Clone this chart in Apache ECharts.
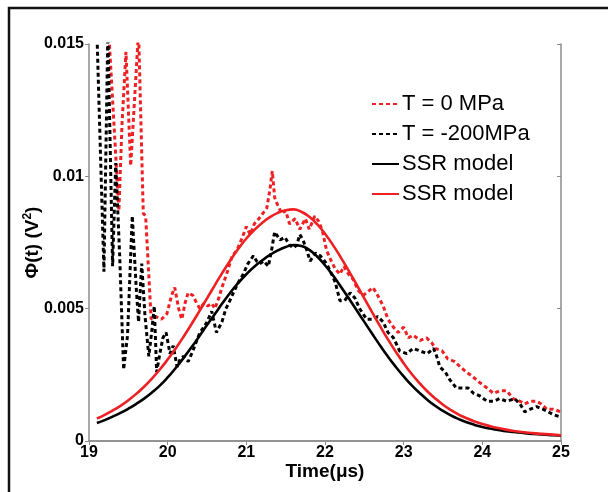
<!DOCTYPE html>
<html>
<head>
<meta charset="utf-8">
<script src="https://cdn.jsdelivr.net/npm/echarts@6/dist/echarts.min.js"></script>
<style>
html,body{margin:0;padding:0;background:#fff;}
#chart{width:608px;height:492px;}
</style>
</head>
<body>
<div id="chart"></div>
<script>
// measured, T = 0 MPa (red dotted)
var redTime = [19.25,19.38,19.42,19.47,19.53,19.63,19.69,19.72,19.79,19.85,19.92,19.99,20.05,20.09,20.14,20.18,20.22,20.26,20.32,20.37,
	20.41,20.46,20.51,20.56,20.60,20.65,20.69,20.76,20.82,20.88,20.95,21.00,21.05,21.10,21.16,21.21,21.26,21.30,21.33,21.36,
	21.40,21.45,21.50,21.55,21.62,21.68,21.75,21.80,21.87,21.92,21.97,22.02,22.08,22.13,22.19,22.24,22.30,22.36,22.42,22.48,
	22.53,22.61,22.67,22.74,22.80,22.87,22.93,23.00,23.06,23.12,23.21,23.29,23.36,23.40,23.49,23.56,23.65,23.72,23.80,23.89,
	23.97,24.06,24.14,24.22,24.31,24.39,24.48,24.54,24.61,24.69,24.75,24.82,24.90,25.00];
var redVals = [0.0155,0.0087,0.0120,0.0147,0.0104,0.0155,0.0086,0.0085,0.0046,0.0047,0.0046,0.0048,0.0055,0.0058,0.0050,0.0046,0.0052,0.0056,0.0055,0.0052,
	0.0050,0.0052,0.0051,0.0052,0.0050,0.0054,0.0058,0.0064,0.0070,0.0072,0.0077,0.0081,0.0078,0.0082,0.0084,0.0086,0.0088,0.0095,0.0102,0.0092,
	0.0089,0.0086,0.0087,0.0082,0.0084,0.0080,0.0084,0.0080,0.0085,0.0083,0.0079,0.0072,0.0068,0.0065,0.0063,0.0066,0.0063,0.0061,0.0057,0.0055,
	0.0056,0.0058,0.0055,0.0051,0.0046,0.0043,0.0041,0.0043,0.0039,0.0040,0.0038,0.0039,0.0037,0.0035,0.0034,0.0031,0.0030,0.0028,0.0026,0.0024,
	0.0022,0.0020,0.0018,0.0019,0.0019,0.0016,0.0015,0.0014,0.0015,0.0015,0.0014,0.0012,0.0012,0.0011];

// measured, T = -200MPa (black dotted)
var blackTime = [19.10,19.19,19.24,19.30,19.34,19.39,19.44,19.49,19.55,19.60,19.63,19.67,19.71,19.76,19.80,19.83,19.86,19.90,19.94,19.98,
	20.03,20.07,20.12,20.16,20.20,20.26,20.32,20.37,20.41,20.46,20.50,20.56,20.62,20.69,20.74,20.79,20.85,20.90,20.96,21.02,
	21.09,21.13,21.17,21.22,21.28,21.32,21.36,21.43,21.49,21.55,21.60,21.64,21.68,21.72,21.77,21.81,21.88,21.94,22.02,22.07,
	22.13,22.19,22.25,22.32,22.38,22.44,22.53,22.61,22.67,22.74,22.80,22.87,22.95,23.04,23.12,23.21,23.30,23.38,23.42,23.46,
	23.53,23.59,23.67,23.75,23.82,23.89,23.97,24.06,24.14,24.22,24.31,24.41,24.48,24.54,24.61,24.69,24.77,24.84,24.90,25.00];
var blackVals = [0.0155,0.0064,0.0155,0.0066,0.0105,0.0070,0.0027,0.0040,0.0085,0.0058,0.0045,0.0067,0.0048,0.0032,0.0042,0.0051,0.0026,0.0033,0.0039,0.0041,
	0.0033,0.0036,0.0028,0.0031,0.0032,0.0030,0.0034,0.0038,0.0041,0.0043,0.0045,0.0049,0.0041,0.0045,0.0050,0.0053,0.0057,0.0060,0.0063,0.0067,
	0.0070,0.0068,0.0067,0.0068,0.0066,0.0072,0.0079,0.0076,0.0077,0.0074,0.0073,0.0074,0.0078,0.0076,0.0072,0.0068,0.0071,0.0070,0.0067,0.0064,
	0.0060,0.0053,0.0053,0.0056,0.0054,0.0050,0.0046,0.0046,0.0047,0.0045,0.0041,0.0039,0.0034,0.0033,0.0035,0.0034,0.0033,0.0035,0.0032,0.0028,
	0.0026,0.0023,0.0020,0.0020,0.0020,0.0018,0.0017,0.0015,0.0015,0.0016,0.0015,0.0016,0.0014,0.0011,0.0012,0.0013,0.0012,0.0011,0.0010,0.0009];

// SSR model curves
var modelTime = [19.1,19.2,19.3,19.4,19.5,19.6,19.7,19.8,19.9,20.0,20.1,20.2,20.3,20.4,20.5,20.6,20.7,20.8,20.9,21.0,
	21.1,21.2,21.3,21.4,21.5,21.6,21.7,21.8,21.9,22.0,22.1,22.2,22.3,22.4,22.5,22.6,22.7,22.8,22.9,23.0,
	23.1,23.2,23.3,23.4,23.5,23.6,23.7,23.8,23.9,24.0,24.1,24.2,24.3,24.4,24.5,24.6,24.7,24.8,24.9,25.0];
var modelBlack = [0.00068,0.00079,0.00092,0.00106,0.00122,0.0014,0.0016,0.00183,0.00209,0.0024,0.00275,0.00313,0.00353,0.00395,0.00438,0.0048,0.00522,0.00562,0.00598,0.0063,
	0.00658,0.00682,0.00703,0.0072,0.00733,0.0074,0.00737,0.00722,0.00697,0.00664,0.00626,0.00584,0.0054,0.00495,0.0045,0.00405,0.00361,0.00319,0.0028,0.00244,
	0.00211,0.00182,0.00156,0.00133,0.00114,0.00097,0.00083,0.00071,0.00061,0.00053,0.00047,0.00042,0.00037,0.00034,0.00031,0.00028,0.00026,0.00024,0.00022,0.00021];
var modelRed = [0.00085,0.00099,0.00115,0.00133,0.00154,0.00178,0.00205,0.00236,0.0027,0.00308,0.00349,0.00393,0.0044,0.00489,0.00539,0.00589,0.00638,0.00684,0.00727,0.00765,
	0.00797,0.00824,0.00846,0.00862,0.00872,0.00875,0.00866,0.00847,0.00819,0.00783,0.00741,0.00694,0.00644,0.00592,0.00539,0.00486,0.00434,0.00384,0.00337,0.00294,
	0.00254,0.00219,0.00188,0.00161,0.00137,0.00117,0.001,0.00086,0.00074,0.00064,0.00056,0.00049,0.00043,0.00038,0.00034,0.00031,0.00028,0.00026,0.00024,0.00022];

var yTicks = [0, 0.005, 0.01, 0.015];

function pairs(xs, ys){
	var out = [];
	for (var i = 0; i < xs.length; i++) out.push([xs[i], ys[i]]);
	return out;
}

var RED = '#ee2024';
var AXIS = '#8c8c8c';
var FONT = 'Liberation Sans, Arial, sans-serif';

var chart = echarts.init(document.getElementById('chart'));
var option = {
	backgroundColor: '#fff',
	animation: false,
	graphic: [{
		type: 'rect',
		shape: {x: 9, y: 8, width: 700, height: 600},
		style: {fill: 'none', stroke: '#111', lineWidth: 2.5}
	}],
	grid: {left: 89, right: 47, top: 44, bottom: 51},
	legend: {
		orient: 'vertical',
		left: 366,
		top: 88,
		itemWidth: 27,
		itemHeight: 12,
		itemGap: 8,
		itemStyle: {opacity: 0},
		textStyle: {color: '#000', fontSize: 22, fontFamily: FONT, padding: [0, 0, 0, -2]},
		data: ['T = 0 MPa', 'T = -200MPa', 'SSR model ', 'SSR model']
	},
	xAxis: [{
		type: 'value', min: 19, max: 25, interval: 1,
		name: 'Time(μs)', nameLocation: 'middle', nameGap: 21, nameMoveOverlap: false,
		nameTextStyle: {color: '#000', fontSize: 19, fontWeight: 'bold', fontFamily: FONT},
		axisLine: {lineStyle: {color: AXIS, width: 1.5}},
		axisTick: {show: true, inside: false, length: 3, lineStyle: {color: AXIS}},
		axisLabel: {color: '#000', fontSize: 16, fontWeight: 'bold', fontFamily: FONT, margin: 4},
		splitLine: {show: false}
	}, {
		type: 'value', min: 19, max: 25, interval: 1, position: 'top',
		axisLine: {lineStyle: {color: AXIS, width: 1.5}},
		axisTick: {show: true, inside: true, length: 4, lineStyle: {color: AXIS}},
		axisLabel: {show: false},
		splitLine: {show: false}
	}],
	yAxis: [{
		type: 'value', min: 0, max: 0.015, interval: 0.005,
		name: '{a|Φ(t) (V}{s|2}{a|)}', nameLocation: 'middle', nameGap: 46, nameMoveOverlap: false,
		nameTextStyle: {
			rich: {
				a: {color: '#000', fontSize: 19, fontWeight: 'bold', fontFamily: FONT},
				s: {color: '#000', fontSize: 12, fontWeight: 'bold', fontFamily: FONT, verticalAlign: 'top', padding: [0, 0, 9, 0]}
			}
		},
		axisLine: {show: true, lineStyle: {color: AXIS, width: 1.5}},
		axisTick: {show: true, inside: false, length: 4, lineStyle: {color: AXIS}},
		axisLabel: {
			color: '#000', fontSize: 16, fontWeight: 'bold', fontFamily: FONT, margin: 5,
			formatter: function(v){
				for (var i = 0; i < yTicks.length; i++) if (Math.abs(v - yTicks[i]) < 1e-9) return String(yTicks[i]);
				return '';
			}
		},
		splitLine: {show: false}
	}, {
		type: 'value', min: 0, max: 0.015, interval: 0.005, position: 'right',
		axisLine: {show: true, lineStyle: {color: AXIS, width: 1.5}},
		axisTick: {show: true, inside: true, length: 4, lineStyle: {color: AXIS}},
		axisLabel: {show: false},
		splitLine: {show: false}
	}],
	series: [{
		name: 'T = 0 MPa', type: 'line', symbol: 'none', clip: true,
		data: pairs(redTime, redVals),
		lineStyle: {color: RED, width: 3, type: [4, 3]},
		itemStyle: {color: RED}
	}, {
		name: 'T = -200MPa', type: 'line', symbol: 'none', clip: true,
		data: pairs(blackTime, blackVals),
		lineStyle: {color: '#000', width: 3, type: [4, 3]},
		itemStyle: {color: '#000'}
	}, {
		name: 'SSR model ', type: 'line', symbol: 'none', smooth: true, clip: true,
		data: pairs(modelTime, modelBlack),
		lineStyle: {color: '#000', width: 2.6},
		itemStyle: {color: '#000'}
	}, {
		name: 'SSR model', type: 'line', symbol: 'none', smooth: true, clip: true,
		data: pairs(modelTime, modelRed),
		lineStyle: {color: RED, width: 2.6},
		itemStyle: {color: RED}
	}]
};
chart.setOption(option);
</script>
</body>
</html>
